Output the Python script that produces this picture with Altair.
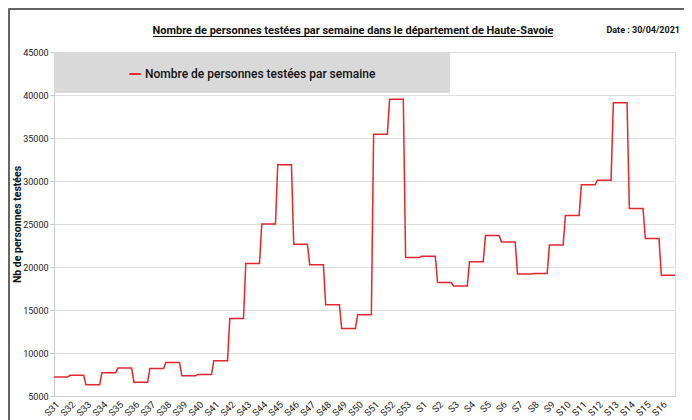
import altair as alt
import pandas as pd

weeks = ["S31", "S32", "S33", "S34", "S35", "S36", "S37", "S38", "S39", "S40",
         "S41", "S42", "S43", "S44", "S45", "S46", "S47", "S48", "S49", "S50",
         "S51", "S52", "S53", "S1", "S2", "S3", "S4", "S5", "S6", "S7", "S8",
         "S9", "S10", "S11", "S12", "S13", "S14", "S15", "S16"]
values = [7200, 7400, 6300, 7700, 8250, 6600, 8200, 8900, 7350, 7500,
          9100, 14000, 20400, 25000, 31900, 22650, 20250, 15600, 12850, 14450,
          35450, 39500, 21100, 21250, 18200, 17800, 20600, 23650, 22900, 19200, 19250,
          22550, 26000, 29550, 30100, 39100, 26800, 23300, 19050]
days_per_week = 7
series_name = "Nombre de personnes testées par semaine"
title_text = "Nombre de personnes testées par semaine dans le département de Haute-Savoie"
date_text = "Date : 30/04/2021"
y_ticks = [5000, 10000, 15000, 20000, 25000, 30000, 35000, 40000, 45000]

rows = []
for i, (w, v) in enumerate(zip(weeks, values)):
    for d in range(days_per_week):
        rows.append({"jour": i * days_per_week + d, "semaine": w, "valeur": v, "serie": series_name})
df = pd.DataFrame(rows)
last_day = len(weeks) * days_per_week - 1

FONT = "Roboto"
RED = "#e8262a"
W, H = 621, 344
TOP = 44

label_array = "[" + ",".join("'" + w + "'" for w in weeks) + "]"

one = pd.DataFrame({"k": [0]})

frame = alt.Chart(one).mark_rect(filled=False, stroke="#333333", strokeWidth=1.5).encode(
    x=alt.value(-45), x2=alt.value(W + 40), y=alt.value(-TOP + 1), y2=alt.value(H + 60)
)

legend_box = alt.Chart(one).mark_rect(fill="#d9d9d9").encode(
    x=alt.value(0), x2=alt.value(396), y=alt.value(0), y2=alt.value(41)
)

line = alt.Chart(df).mark_line(strokeWidth=1.5).encode(
    x=alt.X("jour:Q",
            scale=alt.Scale(domain=[0, last_day], nice=False, zero=False),
            axis=alt.Axis(values=[i * days_per_week for i in range(len(weeks))],
                          labelExpr=label_array + "[round(datum.value/" + str(days_per_week) + ")]",
                          labelAngle=-45, labelFontSize=9.5, labelFont=FONT, labelColor="#222222",
                          labelOverlap=False, grid=False, ticks=False, labelPadding=3,
                          domainColor="#bbbbbb", domainDash=[1, 1], title=None)),
    y=alt.Y("valeur:Q",
            scale=alt.Scale(domain=[5000, 45000], nice=False, zero=False),
            axis=alt.Axis(values=y_ticks, format="d", labelFontSize=9, labelFont=FONT,
                          labelColor="#222222", gridColor="#dedede", tickColor="#cccccc",
                          tickSize=4, labelPadding=2, domainColor="#cccccc",
                          title="Nb de personnes testées", titleFont=FONT, titleFontSize=10.5,
                          titleFontWeight="bold", titleColor="#111111", titlePadding=0)),
    color=alt.Color("serie:N", scale=alt.Scale(domain=[series_name], range=[RED]),
                    legend=alt.Legend(orient="none", legendX=74, legendY=15, title=None,
                                      symbolType="stroke", symbolStrokeWidth=2, symbolSize=130,
                                      labelFont=FONT, labelFontSize=12, labelFontWeight=500,
                                      labelColor="#111111", labelOffset=3, padding=0,
                                      labelLimit=0)),
    detail="serie:N",
)

title = alt.Chart(one).mark_text(font=FONT, fontSize=11, fontWeight="bold", color="#111111",
                                 align="center", baseline="alphabetic").encode(
    x=alt.value(299), y=alt.value(-TOP + 26), text=alt.value(title_text)
)
underline = alt.Chart(one).mark_rule(color="#111111", strokeWidth=1).encode(
    x=alt.value(99), x2=alt.value(499), y=alt.value(-TOP + 28.5)
)
date = alt.Chart(one).mark_text(font=FONT, fontSize=9, fontWeight="bold", color="#111111",
                                align="right", baseline="alphabetic").encode(
    x=alt.value(626), y=alt.value(-TOP + 25), text=alt.value(date_text)
)

chart = alt.layer(frame, legend_box, line, title, underline, date).properties(
    width=W, height=H,
    padding={"left": 46, "top": TOP, "right": 9, "bottom": 24},
    autosize=alt.AutoSizeParams(type="none"),
).configure_view(stroke="#d6d6d6").configure(background="white")

chart.save("out.html", embed_options={"renderer": "svg", "actions": False})
